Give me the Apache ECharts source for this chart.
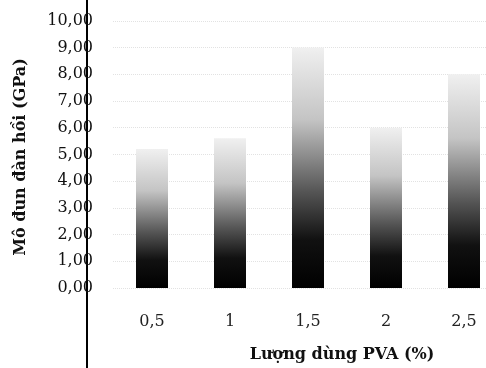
<!DOCTYPE html>
<html>
<head>
<meta charset="utf-8">
<script src="https://cdn.jsdelivr.net/npm/echarts@6/dist/echarts.min.js"></script>
<style>
  html, body { margin: 0; padding: 0; background: #fff; }
  #chart { width: 486px; height: 368px; }
</style>
</head>
<body>
<div id="chart"></div>
<script>
// Lượng dùng PVA (%) và mô đun đàn hồi (GPa)
const categories = ['0,5', '1', '1,5', '2', '2,5'];
const modulus = [5.2, 5.6, 9.0, 6.0, 8.0];
const yTicks = [0, 1, 2, 3, 4, 5, 6, 7, 8, 9, 10];

const chart = echarts.init(document.getElementById('chart'));

const serif = 'DejaVu Serif';

// lưới mờ chỉ cho 0..10, ẩn các vạch âm
const gridColors = [];
for (let v = -3; v <= 10; v++) {
  gridColors.push(v < 0 ? 'rgba(0,0,0,0)' : '#e2e2e2');
}

const option = {
  animation: false,
  grid: [
    // vùng vẽ cột, trục tung kéo dài tới đáy
    { left: 113, top: 0, width: 390, height: 368, containLabel: false, outerBoundsMode: 'none' },
    // trục hoành nằm ở mức 0
    { left: 113, top: 0, width: 390, height: 289, containLabel: false, outerBoundsMode: 'none' }
  ],
  xAxis: [
    { type: 'category', gridIndex: 0, data: categories, show: false },
    {
      type: 'category',
      gridIndex: 1,
      data: categories,
      axisLine: { show: false },
      axisTick: { show: false },
      axisLabel: {
        margin: 25,
        fontFamily: serif,
        fontSize: 16,
        color: '#222'
      },
      name: 'Lượng dùng PVA (%)',
      nameLocation: 'middle',
      nameGap: 58,
      nameTextStyle: {
        fontFamily: serif,
        fontWeight: 'bold',
        fontSize: 16,
        color: '#111',
        padding: [0, 0, 0, 68]
      }
    }
  ],
  yAxis: [
    {
      type: 'value',
      gridIndex: 0,
      min: -3,
      max: 10.78,
      interval: 1,
      offset: 26,
      axisLine: { show: true, lineStyle: { color: '#000', width: 2 } },
      axisTick: { show: false },
      axisLabel: {
        margin: -6,
        fontFamily: serif,
        fontSize: 16,
        color: '#111',
        formatter: function (v) {
          return yTicks.indexOf(v) >= 0 ? v.toFixed(2).replace('.', ',') : '';
        }
      },
      splitLine: {
        show: true,
        lineStyle: { color: gridColors, type: 'dotted', width: 1 }
      },
      name: 'Mô đun đàn hồi (GPa)',
      nameLocation: 'middle',
      nameGap: 58,
      nameTextStyle: {
        fontFamily: serif,
        fontWeight: 'bold',
        fontSize: 16,
        color: '#111',
        padding: [0, 0, 0, 54]
      }
    },
    { type: 'value', gridIndex: 1, min: 0, max: 1, show: false }
  ],
  series: [
    {
      type: 'bar',
      xAxisIndex: 0,
      yAxisIndex: 0,
      data: modulus,
      barWidth: 32,
      itemStyle: {
        color: new echarts.graphic.LinearGradient(0, 0, 0, 1, [
          { offset: 0, color: '#f0f0f0' },
          { offset: 0.3, color: '#c4c4c4' },
          { offset: 0.6, color: '#555' },
          { offset: 0.8, color: '#111' },
          { offset: 1, color: '#000' }
        ])
      }
    }
  ]
};

chart.setOption(option);
</script>
</body>
</html>
